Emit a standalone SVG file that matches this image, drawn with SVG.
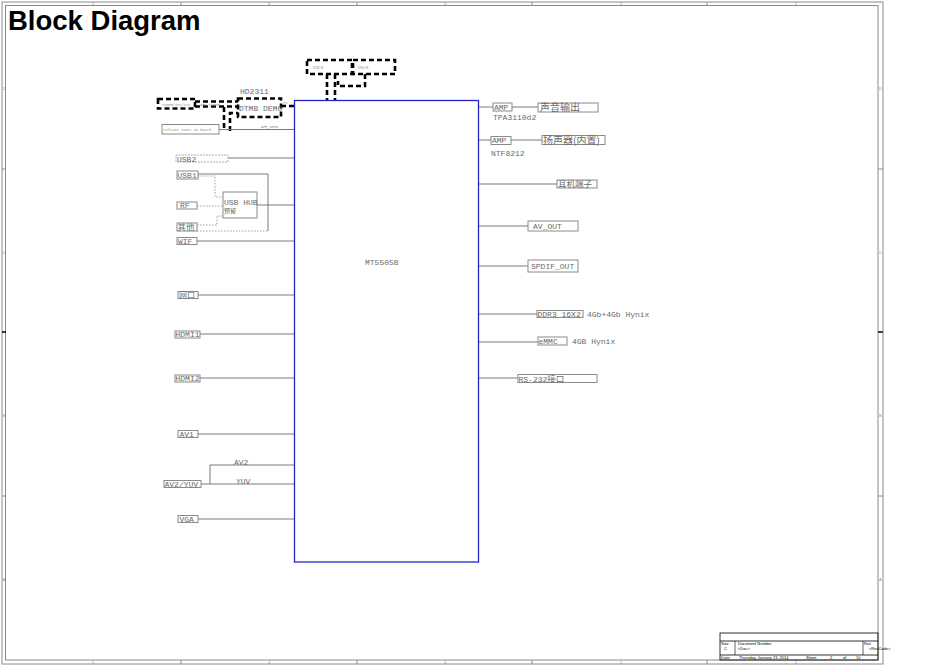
<svg xmlns="http://www.w3.org/2000/svg" width="950" height="672" viewBox="0 0 950 672">
<style>
.frame{fill:none;stroke:#8a8a8a;stroke-width:1}
.tick{stroke:#8a8a8a;stroke-width:1}
.zl{font-family:"Liberation Sans",Arial,sans-serif;font-size:4px;fill:#888}
.title{font-family:"Liberation Sans",Arial,sans-serif;font-size:27.5px;font-weight:bold;fill:#000}
.t{font-family:"Liberation Mono","DejaVu Sans Mono","Noto Sans CJK SC",monospace;font-size:8px;fill:#6a6a6a}
.tiny{font-family:"Liberation Mono","DejaVu Sans Mono",monospace;font-size:3.6px;fill:#888}
.cn{font-family:"Noto Sans CJK SC",serif;fill:#6a6a6a}
.box{fill:#fff;stroke:#8a8a8a;stroke-width:1}
.dbox{fill:#fff;stroke:#9a9a9a;stroke-width:0.8;stroke-dasharray:2,1}
.ln{fill:none;stroke:#7a7a7a;stroke-width:1}
.dot{fill:none;stroke:#8a8a8a;stroke-width:0.8;stroke-dasharray:1.5,1.5}
.dash{fill:none;stroke:#000;stroke-width:2.6;stroke-dasharray:5,3}
.chip{fill:#fff;stroke:#2626c8;stroke-width:1.3}
.tb{font-family:"Liberation Sans",Arial,sans-serif;font-size:4px;fill:#000}
</style>

<rect width="950" height="672" fill="#fff"/>

<!-- frame -->
<g id="frame">
<rect class="frame" x="2" y="2" width="881" height="662"/>
<rect class="frame" x="5.5" y="5.5" width="872.5" height="654.5"/>
<line class="tick" x1="181" y1="2" x2="181" y2="5.5"/><line class="tick" x1="357" y1="2" x2="357" y2="5.5"/>
<line class="tick" x1="532" y1="2" x2="532" y2="5.5"/><line class="tick" x1="707" y1="2" x2="707" y2="5.5"/>
<line class="tick" x1="181" y1="660" x2="181" y2="664"/><line class="tick" x1="357" y1="660" x2="357" y2="664"/>
<line class="tick" x1="532" y1="660" x2="532" y2="664"/><line class="tick" x1="707" y1="660" x2="707" y2="664"/>
<line class="tick" x1="2" y1="169" x2="5.5" y2="169"/><line class="tick" x1="2" y1="496" x2="5.5" y2="496"/>
<line class="tick" x1="878" y1="169" x2="883" y2="169"/><line class="tick" x1="878" y1="496" x2="883" y2="496"/>
<path d="M2 332 L6 332" stroke="#000" stroke-width="1.5"/>
<path d="M878 332 L883 332" stroke="#000" stroke-width="1.5"/>
<text class="zl" x="92" y="5">5</text><text class="zl" x="268" y="5">4</text><text class="zl" x="444" y="5">3</text><text class="zl" x="620" y="5">2</text><text class="zl" x="795" y="5">1</text>
<text class="zl" x="92" y="663.5">5</text><text class="zl" x="268" y="663.5">4</text><text class="zl" x="444" y="663.5">3</text><text class="zl" x="620" y="663.5">2</text><text class="zl" x="795" y="663.5">1</text>
<text class="zl" x="2.5" y="90">D</text><text class="zl" x="2.5" y="254">C</text><text class="zl" x="2.5" y="417">B</text><text class="zl" x="2.5" y="581">A</text>
<text class="zl" x="879" y="90">D</text><text class="zl" x="879" y="254">C</text><text class="zl" x="879" y="417">B</text><text class="zl" x="879" y="581">A</text>
</g>

<text class="title" x="8" y="30">Block Diagram</text>

<!-- title block -->
<g id="titleblock">
<rect x="720" y="633" width="158" height="27" fill="none" stroke="#000" stroke-width="0.8"/>
<line x1="720" y1="641" x2="878" y2="641" stroke="#000" stroke-width="0.8"/>
<line x1="720" y1="655" x2="878" y2="655" stroke="#000" stroke-width="0.8"/>
<line x1="735" y1="641" x2="735" y2="655" stroke="#000" stroke-width="0.6"/>
<line x1="863" y1="641" x2="863" y2="655" stroke="#000" stroke-width="0.6"/>
<text class="tb" x="721" y="645">Size</text><text class="tb" x="724" y="650">C</text>
<text class="tb" x="738" y="645">Document Number</text><text class="tb" x="738" y="649.5">&lt;Doc&gt;</text>
<text class="tb" x="864" y="645">Rev</text><text class="tb" x="869" y="650">&lt;RevCode&gt;</text>
<text class="tb" x="721" y="658.8">Date:</text><text class="tb" x="739" y="658.8">Thursday, January 23, 2014</text>
<text class="tb" x="806" y="658.8">Sheet</text><text class="tb" x="830" y="658.8">2</text><text class="tb" x="843" y="658.8">of</text><text class="tb" x="856" y="658.8">10</text>
</g>

<!-- connectors -->
<g id="connectors">
<line class="dash" x1="327" y1="74" x2="327" y2="100"/>
<line class="dash" x1="335" y1="74" x2="335" y2="100"/>
<polyline class="dash" points="365,74 365,86 338,86 338,81"/>
<line class="dash" x1="195" y1="101.5" x2="238" y2="101.5"/>
<line class="dash" x1="195" y1="106.5" x2="238" y2="106.5"/>
<line class="dash" x1="281" y1="106" x2="294" y2="106"/>
<line class="dash" x1="224" y1="107" x2="224" y2="131"/>
<polyline class="dash" points="230,131 230,113 238,113"/>
<line class="ln" x1="219" y1="129.5" x2="294" y2="129.5" stroke="#aaa"/>
<line class="ln" x1="228" y1="158" x2="294" y2="158"/>
<polyline class="ln" points="198,174 268,174 268,231"/>
<polyline class="dot" points="197,231 268,231"/>
<polyline class="dot" points="198,176 215,176 215,197 223,197"/>
<line class="dot" x1="197" y1="206" x2="223" y2="206"/>
<polyline class="dot" points="197,225 217,225 217,216 223,216"/>
<line class="ln" x1="257" y1="205" x2="294" y2="205"/>
<line class="ln" x1="197" y1="241" x2="294" y2="241"/>
<line class="ln" x1="198" y1="295" x2="294" y2="295"/>
<line class="ln" x1="200" y1="334" x2="294" y2="334"/>
<line class="ln" x1="200" y1="378" x2="294" y2="378"/>
<line class="ln" x1="198" y1="434" x2="294" y2="434"/>
<polyline class="ln" points="210,484 210,465 294,465"/>
<line class="ln" x1="201" y1="484" x2="294" y2="484"/>
<line class="ln" x1="198" y1="519" x2="294" y2="519"/>
<line class="ln" x1="478" y1="107" x2="493" y2="107"/>
<line class="ln" x1="512" y1="107" x2="538" y2="107"/>
<line class="ln" x1="478" y1="140" x2="491" y2="140"/>
<line class="ln" x1="511" y1="140" x2="542" y2="140"/>
<line class="ln" x1="478" y1="184" x2="557" y2="184"/>
<line class="ln" x1="478" y1="226" x2="528" y2="226"/>
<line class="ln" x1="478" y1="266" x2="528" y2="266"/>
<line class="ln" x1="478" y1="314" x2="537" y2="314"/>
<line class="ln" x1="478" y1="342" x2="538" y2="342"/>
<line class="ln" x1="478" y1="378" x2="518" y2="378"/>
</g>

<text class="tiny" x="200" y="105.5">AFE_TUNER</text>
<text class="tiny" x="283" y="104">TS</text>
<text class="tiny" x="261" y="127.5">AFE_DEMO</text>
<text class="t" x="234" y="465">AV2</text>
<text class="t" x="236" y="484">YUV</text>

<g id="mt5505b">
<rect class="chip" x="294.5" y="100.5" width="184" height="461.5"/>
<text class="t" x="365" y="265">MT5505B</text>
</g>

<g id="ci1"><rect class="dash" x="307" y="60" width="45" height="14" fill="#fff"/><text class="tiny cn" x="313" y="68.5">CI大卡</text></g>
<g id="ci2"><rect class="dash" x="353" y="60" width="42" height="14" fill="#fff"/><text class="tiny cn" x="358" y="68.5">CI小卡</text></g>

<g id="tuner"><rect class="dash" x="158" y="99" width="37" height="9.5" fill="#fff"/><text class="tiny" x="162" y="105.5">TUNER/IIC/XXX</text></g>
<g id="demod">
<text class="t" x="240" y="94">HD2311</text>
<rect class="dash" x="238" y="98.5" width="43" height="18.5" fill="#fff"/>
<text class="t" x="239" y="110.5">DTMB DEMO</text>
</g>
<g id="silicon"><rect class="box" x="162" y="124.5" width="57" height="9.5"/><text class="tiny" x="163.5" y="130.5">Silicon Tuner on board</text></g>

<g id="usb2"><rect class="dbox" x="176" y="155" width="52" height="7"/><text class="t" x="177" y="161.5">USB2</text></g>
<g id="usb1"><rect class="box" x="177" y="171" width="21" height="8"/><text class="t" x="177.5" y="177.5">USB1</text></g>
<g id="usbhub"><rect class="box" x="223" y="192" width="34" height="26"/><text class="t" font-size="6.8" x="224" y="205">USB HUB</text><text class="cn" font-size="6" x="224" y="213">预留</text></g>
<g id="rf"><rect class="box" x="177" y="202" width="20" height="7"/><text class="t" x="180" y="208">RF</text></g>
<g id="other"><rect class="box" x="177" y="223" width="20" height="8"/><text class="cn" font-size="8.5" x="177.5" y="230">其他</text></g>
<g id="wif"><rect class="box" x="177" y="237.5" width="20" height="7"/><text class="t" x="178" y="243.5">WIF</text></g>
<g id="lan"><rect class="box" x="178" y="291.5" width="20" height="7"/><text class="cn" font-size="8" x="179" y="298">网口</text></g>
<g id="hdmi1"><rect class="box" x="175" y="331" width="25" height="7"/><text class="t" x="175.5" y="337">HDMI1</text></g>
<g id="hdmi2"><rect class="box" x="175" y="375" width="25" height="7"/><text class="t" x="175.5" y="381">HDMI2</text></g>
<g id="av1"><rect class="box" x="178" y="430.5" width="20" height="7"/><text class="t" x="179.5" y="436.5">AV1</text></g>
<g id="av2yuv"><rect class="box" x="164" y="480.5" width="37" height="7"/><text class="t" x="164.5" y="486.5">AV2/YUV</text></g>
<g id="vga"><rect class="box" x="178" y="515.5" width="20" height="7"/><text class="t" x="179.5" y="521.5">VGA</text></g>

<g id="amp1"><rect class="box" x="493" y="103" width="19" height="8"/><text class="t" x="494" y="109.5">AMP</text><text class="t" font-size="7" x="493" y="120">TPA3110d2</text></g>
<g id="audio-out"><rect class="box" x="538" y="103" width="60" height="9"/><text class="cn" font-size="10" x="540" y="111">声音输出</text></g>
<g id="amp2"><rect class="box" x="491" y="136.5" width="20" height="8"/><text class="t" x="492" y="143">AMP</text><text class="t" font-size="7" x="491" y="156">NTF8212</text></g>
<g id="speaker"><rect class="box" x="542" y="135.5" width="63" height="9"/><text class="cn" font-size="10" x="543" y="143.5">扬声器(内置)</text></g>
<g id="headphone"><rect class="box" x="557" y="180" width="40" height="8"/><text class="cn" font-size="8.5" x="558" y="187">耳机端子</text></g>
<g id="avout"><rect class="box" x="528" y="221" width="50" height="10"/><text class="t" x="533" y="229">AV_OUT</text></g>
<g id="spdif"><rect class="box" x="528" y="260" width="50" height="12"/><text class="t" x="531" y="269">SPDIF_OUT</text></g>
<g id="ddr3"><rect class="box" x="537" y="310.5" width="46" height="7"/><text class="t" x="537.5" y="317">DDR3 16X2</text><text class="t" x="587" y="317">4Gb+4Gb  Hynix</text></g>
<g id="emmc"><rect class="box" x="538" y="337" width="29" height="8"/><text class="t" x="538.5" y="344">eMMC</text><text class="t" x="572" y="344">4GB Hynix</text></g>
<g id="rs232"><rect class="box" x="518" y="374.5" width="79" height="8"/><text class="t" x="518.5" y="381.5">RS-232<tspan class="cn" font-size="8.5">接口</tspan></text></g>
</svg>
